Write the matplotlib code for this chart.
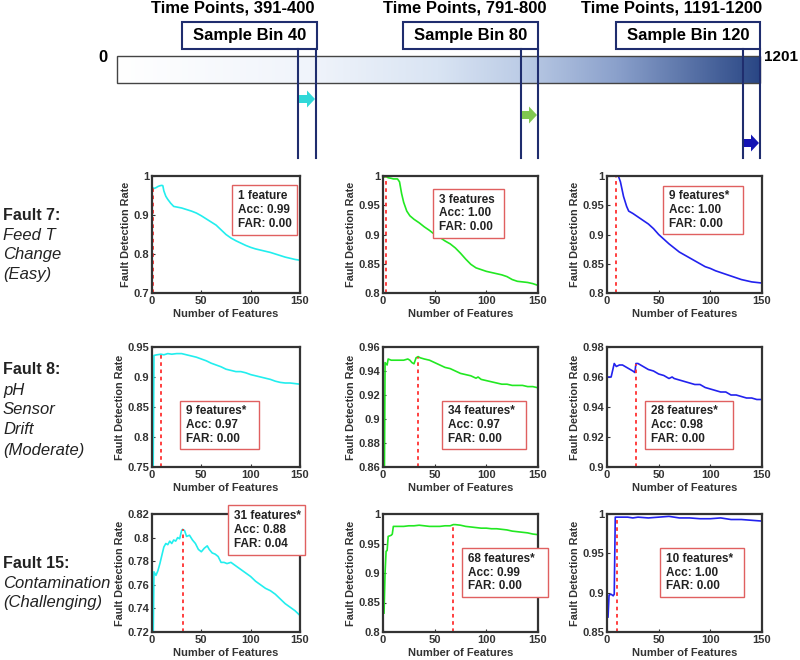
import numpy as np
import matplotlib.pyplot as plt
from matplotlib.colors import LinearSegmentedColormap
from matplotlib.patches import Rectangle, FancyArrow
from matplotlib.ticker import FuncFormatter

plt.rcParams['font.family'] = ['Liberation Sans', 'DejaVu Sans']

# ---- data ----
# Fault 7, bins 40 / 80 / 120
f7_b40_x = [1, 2, 4, 6, 8, 10, 11, 12, 14, 16, 19, 22, 26, 30, 35, 40, 45, 50, 55, 60, 65, 70,
            75, 80, 85, 90, 95, 100, 105, 110, 115, 120, 125, 130, 135, 140, 145, 150]
f7_b40_y = [.970, .968, .970, .973, .975, .976, .975, .962, .948, .940, .930, .922, .920, .918,
            .914, .910, .905, .898, .890, .882, .874, .862, .850, .841, .834, .828, .822, .817,
            .813, .810, .807, .804, .800, .796, .792, .789, .786, .784]
f7_b80_x = [1, 3, 5, 8, 10, 14, 16, 18, 20, 23, 26, 30, 35, 40, 45, 50, 55, 60, 65, 70, 75, 80,
            85, 90, 95, 100, 105, 110, 115, 120, 125, 130, 135, 140, 145, 150]
f7_b80_y = [.998, .999, .997, .996, .995, .995, .990, .970, .955, .940, .932, .926, .920, .913,
            .907, .900, .895, .889, .884, .877, .868, .858, .849, .843, .840, .837, .835, .833,
            .831, .828, .823, .820, .819, .818, .816, .813]
f7_b120_x = [1, 5, 9, 11, 13, 16, 19, 21, 25, 30, 35, 40, 45, 50, 55, 60, 65, 70, 75, 80, 85,
             90, 95, 100, 105, 110, 115, 120, 125, 130, 135, 140, 145, 150]
f7_b120_y = [1.0, 1.0, 1.0, 1.0, .990, .965, .948, .940, .936, .930, .924, .918, .910, .900,
             .892, .884, .877, .870, .865, .860, .855, .850, .845, .842, .838, .835, .832, .829,
             .826, .823, .821, .819, .818, .817]

# Fault 8
f8_b40_x = [1, 2, 5, 9, 12, 16, 20, 25, 30, 35, 40, 45, 50, 55, 60, 65, 70, 75, 80, 85, 90, 95,
            100, 105, 110, 115, 120, 125, 130, 135, 140, 145, 150]
f8_b40_y = [.70, .936, .937, .938, .937, .939, .938, .939, .939, .937, .935, .933, .930, .927,
            .923, .920, .917, .913, .911, .909, .909, .907, .904, .902, .900, .898, .896, .893,
            .891, .890, .890, .889, .888]
f8_b80_x = [1, 2, 4, 5, 8, 12, 16, 20, 24, 26, 28, 30, 32, 34, 36, 40, 45, 50, 55, 60, 65, 70,
            75, 80, 85, 90, 92, 95, 100, 105, 110, 115, 120, 125, 130, 135, 140, 145, 150]
f8_b80_y = [.80, .947, .945, .950, .949, .949, .949, .949, .950, .949, .947, .946, .951, .952,
            .951, .950, .949, .947, .945, .943, .942, .940, .938, .937, .936, .934, .935, .933,
            .932, .931, .930, .929, .929, .928, .928, .928, .927, .927, .926]
f8_b120_x = [1, 4, 6, 7, 9, 12, 15, 20, 25, 27, 28, 30, 35, 40, 45, 50, 55, 60, 63, 65, 70, 75,
             80, 85, 90, 95, 100, 105, 110, 115, 120, 125, 130, 135, 140, 145, 150]
f8_b120_y = [.960, .960, .966, .969, .967, .968, .968, .966, .964, .963, .969, .969, .967, .965,
             .964, .962, .961, .959, .960, .959, .958, .957, .956, .955, .955, .953, .952, .951,
             .950, .950, .948, .948, .947, .946, .946, .945, .945]

# Fault 15
f15_b40_x = [1, 2, 4, 6, 8, 10, 12, 14, 16, 18, 20, 22, 24, 26, 28, 30, 31, 33, 35, 38, 41, 44,
             47, 50, 53, 56, 58, 61, 64, 67, 70, 73, 76, 80, 85, 90, 95, 100, 105, 110, 115,
             120, 125, 130, 135, 140, 145, 150]
f15_b40_y = [.70, .771, .768, .772, .778, .785, .792, .795, .794, .797, .795, .798, .797, .800,
             .799, .806, .807, .806, .801, .802, .798, .795, .790, .788, .791, .793, .790, .787,
             .786, .784, .779, .779, .778, .779, .776, .773, .770, .767, .763, .760, .757, .755,
             .752, .748, .744, .741, .738, .734]
f15_b80_x = [1, 2, 3, 4, 5, 8, 9, 10, 15, 20, 25, 30, 35, 40, 45, 50, 55, 60, 65, 68, 70, 75,
             80, 85, 90, 95, 100, 105, 110, 115, 120, 125, 130, 135, 140, 145, 150]
f15_b80_y = [.832, .900, .937, .938, .962, .964, .966, .979, .979, .979, .980, .980, .981, .980,
             .979, .979, .979, .980, .980, .982, .982, .981, .979, .978, .977, .976, .976, .975,
             .975, .974, .973, .971, .970, .969, .968, .966, .965]
f15_b120_x = [1, 2, 4, 6, 7, 8, 9, 10, 15, 20, 25, 30, 40, 50, 60, 70, 80, 90, 100, 110, 120,
              130, 140, 150]
f15_b120_y = [.869, .897, .898, .896, .898, .996, .996, .996, .996, .996, .995, .996, .995, .996,
              .997, .995, .995, .994, .994, .995, .993, .993, .992, .991]

selected = [1, 3, 9, 9, 34, 28, 31, 68, 10]
sel_star = ['', '', '*', '*', '*', '*', '*', '*', '*']
acc = ['0.99', '1.00', '1.00', '0.97', '0.97', '0.98', '0.88', '0.99', '1.00']
far = ['0.00', '0.00', '0.00', '0.00', '0.00', '0.00', '0.04', '0.00', '0.00']
ylims = [(0.7, 1), (0.8, 1), (0.8, 1), (0.75, 0.95), (0.86, 0.96), (0.9, 0.98),
         (0.72, 0.82), (0.8, 1), (0.85, 1)]
ysteps = [0.1, 0.05, 0.05, 0.05, 0.02, 0.02, 0.02, 0.05, 0.05]

row_titles = ['Fault 7:', 'Fault 8:', 'Fault 15:']
row_descr = [['Feed T', 'Change', '(Easy)'],
             ['pH', 'Sensor', 'Drift', '(Moderate)'],
             ['Contamination', '(Challenging)']]
bin_labels = ['Sample Bin 40', 'Sample Bin 80', 'Sample Bin 120']
time_labels = ['Time Points, 391-400', 'Time Points, 791-800', 'Time Points, 1191-1200']

series = [(f7_b40_x, f7_b40_y), (f7_b80_x, f7_b80_y), (f7_b120_x, f7_b120_y),
          (f8_b40_x, f8_b40_y), (f8_b80_x, f8_b80_y), (f8_b120_x, f8_b120_y),
          (f15_b40_x, f15_b40_y), (f15_b80_x, f15_b80_y), (f15_b120_x, f15_b120_y)]
colors = ['#22EEEE', '#22E822', '#2222EE']
arrow_colors = ['#30D8D8', '#80C850', '#1414B4']

W, H = 800, 660
fig = plt.figure(figsize=(8, 6.6), dpi=100)

# panel layout in pixels
col_x = [(152, 300), (383, 538), (607, 762)]
row_y = [(176, 293), (347, 467), (514, 632)]
boxes = [(232, 297, 185, 235), (433, 504, 189, 238), (663, 743, 186, 234),
         (180, 259, 401, 449), (442, 526, 401, 449), (645, 733, 401, 449),
         (228, 305, 505, 555), (462, 548, 548, 597), (660, 744, 548, 597)]

fmt = FuncFormatter(lambda v, p: ('%.2f' % v).rstrip('0').rstrip('.'))

for k in range(9):
    r, c = divmod(k, 3)
    x0, x1 = col_x[c]
    y0, y1 = row_y[r]
    ax = fig.add_axes([x0 / W, 1 - y1 / H, (x1 - x0) / W, (y1 - y0) / H])
    xs, ys = series[k]
    lo, hi = ylims[k]
    ax.plot(xs, ys, color=colors[c], lw=1.2)
    s = selected[k]
    ax.vlines(s, lo, np.interp(s, xs, ys), colors='#FF3030', linestyles=(0, (2, 2)), lw=1.3)
    ax.set_xlim(0, 150)
    ax.set_ylim(lo, hi)
    ax.set_xticks([0, 50, 100, 150])
    ax.set_yticks(np.arange(lo, hi + 1e-9, ysteps[k]))
    ax.yaxis.set_major_formatter(fmt)
    ax.tick_params(direction='in', length=2, labelsize=8, colors='#333333', pad=2)
    for lab in ax.get_xticklabels() + ax.get_yticklabels():
        lab.set_fontweight('bold')
    for sp in ax.spines.values():
        sp.set_linewidth(1.6)
        sp.set_color('#333333')
    ax.set_xlabel('Number of Features', fontsize=8, fontweight='bold', color='#333333', labelpad=2)
    ax.set_ylabel('Fault Detection Rate', fontsize=7.8, fontweight='bold', color='#333333',
                  labelpad=2)

# overlay in pixel coordinates
ov = fig.add_axes([0, 0, 1, 1], zorder=10)
ov.axis('off')
ov.patch.set_alpha(0)

# annotation boxes
for k in range(9):
    bx0, bx1, by0, by1 = boxes[k]
    ov.add_patch(Rectangle((bx0, by0), bx1 - bx0, by1 - by0, fill=True, fc='white',
                           ec='#E06060', lw=1.0))
    feat = '%d feature%s%s' % (selected[k], '' if selected[k] == 1 else 's', sel_star[k])
    ov.text(bx0 + 6, (by0 + by1) / 2, '%s\nAcc: %s\nFAR: %s' % (feat, acc[k], far[k]),
            ha='left', va='center', fontsize=8.5, fontweight='bold', linespacing=1.2,
            color='#222222')

# row labels
row_title_y = [215, 370, 563]
for r in range(3):
    ov.text(3, row_title_y[r], row_titles[r], fontsize=11.5, fontweight='bold', va='center',
            ha='left', color='#222222')
    for i, line in enumerate(row_descr[r]):
        ov.text(3, row_title_y[r] + 20 * (i + 1), line, fontsize=12, style='italic',
                va='center', ha='left', color='#222222')

# time bar with gradient
cmap = LinearSegmentedColormap.from_list('tb', [(0, '#ffffff'), (0.3, '#f0f4fb'),
                                               (0.5, '#d9e4f3'), (0.63, '#bccce6'),
                                               (0.78, '#8aa0cb'), (1, '#2a4785')])
ov.imshow(np.linspace(0, 1, 256)[None, :], cmap=cmap, aspect='auto',
          extent=[117, 760, 83, 56], zorder=1)
ov.add_patch(Rectangle((117, 56), 643, 27, fill=False, ec='#444444', lw=1.0, zorder=2))
ov.text(103, 57, '0', fontsize=12, fontweight='bold', ha='center', va='center')
ov.text(764, 57, '1201', fontsize=11, fontweight='bold', ha='left', va='center')
ov.set_xlim(0, W)
ov.set_ylim(H, 0)

bin_boxes = [(182, 317), (403, 538), (616, 760)]
bin_lines = [(298, 316), (521, 538), (743, 760)]
arrow_y = [99, 115, 143]
time_x = [233, 465, 672]
navy = '#1F2D6E'
for i in range(3):
    bl, br = bin_boxes[i]
    ov.add_patch(Rectangle((bl, 22), br - bl, 27, fc='white', ec=navy, lw=1.5, zorder=3))
    ov.text((bl + br) / 2, 35.5, bin_labels[i], fontsize=12, fontweight='bold',
            ha='center', va='center', zorder=4)
    ov.text(time_x[i], 8, time_labels[i], fontsize=12, fontweight='bold',
            ha='center', va='center')
    la, lb = bin_lines[i]
    ov.plot([la, la], [49, 158], color=navy, lw=1.5, zorder=3)
    ov.plot([lb, lb], [49, 158], color=navy, lw=1.5, zorder=3)
    ov.add_patch(FancyArrow(la + 1, arrow_y[i], lb - la - 10, 0, width=8, head_width=17,
                            head_length=8, length_includes_head=False, fc=arrow_colors[i],
                            ec='none', zorder=4))

fig.savefig('out.png', dpi=100)
